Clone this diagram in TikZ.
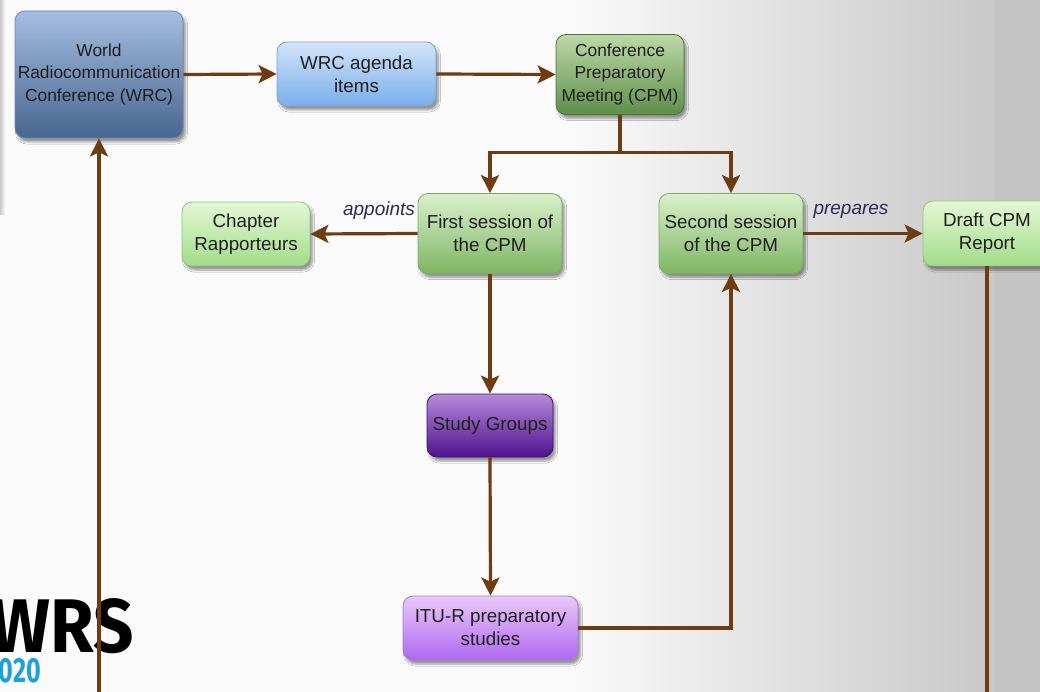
\documentclass[tikz,border=0pt]{standalone}
\usepackage{fontspec}
\setmainfont{Liberation Sans}
\newfontfamily\logofont{Fira Sans}
\usetikzlibrary{arrows.meta,shadows.blur}
\definecolor{brn}{HTML}{6E3C12}
\definecolor{txt}{HTML}{1E1E1E}
\definecolor{lbltxt}{HTML}{2B2B55}
\definecolor{bgw}{HTML}{FAFAFA}
\definecolor{bgg}{HTML}{C8C8C8}
\definecolor{bgbar}{HTML}{C4C4C4}
\definecolor{logoblue}{HTML}{1EA0DC}
\definecolor{dbD}{HTML}{6B88B0}\definecolor{dbT}{HTML}{A5BDE0}\definecolor{dbB}{HTML}{486690}
\definecolor{lbD}{HTML}{7FA3CF}\definecolor{lbT}{HTML}{D2E4F8}\definecolor{lbB}{HTML}{78AEEA}
\definecolor{dgD}{HTML}{52703F}\definecolor{dgT}{HTML}{BCD8A8}\definecolor{dgB}{HTML}{5E8F4A}
\definecolor{mgD}{HTML}{7FA86A}\definecolor{mgT}{HTML}{DAF0CB}\definecolor{mgB}{HTML}{7EB563}
\definecolor{lgD}{HTML}{92C27E}\definecolor{lgT}{HTML}{E4F7D6}\definecolor{lgB}{HTML}{A2DC88}
\definecolor{dpD}{HTML}{3E0E6E}\definecolor{dpT}{HTML}{B48AD9}\definecolor{dpB}{HTML}{4F1290}
\definecolor{lpD}{HTML}{A779D0}\definecolor{lpT}{HTML}{EAC8F8}\definecolor{lpB}{HTML}{AE68F0}
\begin{document}
\begin{tikzpicture}[x=1pt,y=-1pt,
  bx/.style={rounded corners=10pt, line width=0.8pt, align=center, text=txt,
    inner sep=2pt, font=\fontsize{18.8}{23}\selectfont,
    blur shadow={shadow xshift=2.5pt, shadow yshift=-4pt, shadow blur steps=6, shadow opacity=40}},
  darkblue/.style={bx, draw=dbD, top color=dbT, bottom color=dbB, font=\fontsize{17.4}{22.5}\selectfont},
  lightblue/.style={bx, draw=lbD, top color=lbT, bottom color=lbB},
  darkgreen/.style={bx, draw=dgD, top color=dgT, bottom color=dgB, font=\fontsize{17.4}{22.5}\selectfont},
  midgreen/.style={bx, draw=mgD, top color=mgT, bottom color=mgB},
  lightgreen/.style={bx, draw=lgD, top color=lgT, bottom color=lgB},
  darkpurple/.style={bx, draw=dpD, top color=dpT, bottom color=dpB},
  lightpurple/.style={bx, draw=lpD, top color=lpT, bottom color=lpB},
  ln/.style={draw=brn, line width=3.2pt},
  arr/.style={ln, -{Stealth[length=18pt,width=18pt,inset=4pt]}},
  lbl/.style={text=lbltxt, font=\fontsize{19}{22}\selectfont\itshape, inner sep=0pt}
]
\useasboundingbox (0,0) rectangle (1040,692);
% background
\fill[bgw] (0,0) rectangle (1040,692);
\shade[left color=bgw, right color=bgg] (570,0) rectangle (995,692);
\fill[bgbar] (995,0) rectangle (1040,692);
\shade[left color=bgg, right color=bgw] (0,0) rectangle (5,215);

% WRS logo
\node[anchor=base east, inner sep=0pt, text=black] (logo) at (134,652)
  {\scalebox{0.93}[1]{\logofont\bfseries\fontsize{76}{76}\selectfont WRS}};
\node[anchor=base east, inner sep=0pt, text=logoblue] (logoyear) at (41,682)
  {\scalebox{0.72}[1]{\logofont\bfseries\fontsize{35}{35}\selectfont 2020}};

% nodes
\node[darkblue, minimum width=168pt, minimum height=127pt] (wrc) at (99,74.5)
  {World\\Radiocommunication\\Conference (WRC)};
\node[lightblue, minimum width=159pt, minimum height=64pt] (agenda) at (356.5,74)
  {WRC agenda\\items};
\node[darkgreen, minimum width=128pt, minimum height=80pt] (cpm) at (620,74.5)
  {Conference\\Preparatory\\Meeting (CPM)};
\node[lightgreen, minimum width=128pt, minimum height=64pt] (chap) at (246,234)
  {Chapter\\Rapporteurs};
\node[midgreen, minimum width=144pt, minimum height=80pt] (first) at (490,233.5)
  {First session of\\the CPM};
\node[midgreen, minimum width=144pt, minimum height=80pt] (second) at (731,233.5)
  {Second session\\of the CPM};
\node[lightgreen, minimum width=128pt, minimum height=65pt] (draft) at (987,233.5)
  {Draft CPM\\Report};
\node[darkpurple, minimum width=126pt, minimum height=63pt] (sg) at (490,425.5)
  {Study Groups};
\node[lightpurple, minimum width=175pt, minimum height=64pt] (itu) at (490.5,628)
  {ITU-R preparatory\\studies};

\coordinate (wrcfoot) at (99,700);
\coordinate (draftfoot) at (987,700);

% connectors
\draw[arr] (wrc.east) -- (agenda.west);
\draw[arr] (agenda.east) -- (cpm.west);
\draw[arr] (cpm.south) -- ++(0,38) -| (first.north);
\draw[arr] (cpm.south) -- ++(0,38) -| (second.north);
\draw[arr] (first.west) -- (chap.east);
\draw[arr] (second.east) -- (draft.west);
\draw[arr] (first.south) -- (sg.north);
\draw[arr] (sg.south) -- (itu.north);
\draw[arr] (itu.east) -| (second.south);
\draw[ln] (draft.south) -- (draftfoot);
\draw[arr] (wrcfoot) -- (wrc.south);

% labels
\node[lbl] (appoints) at (379,211) {appoints};
\node[lbl] (prepares) at (851,211) {prepares};
\end{tikzpicture}
\end{document}
